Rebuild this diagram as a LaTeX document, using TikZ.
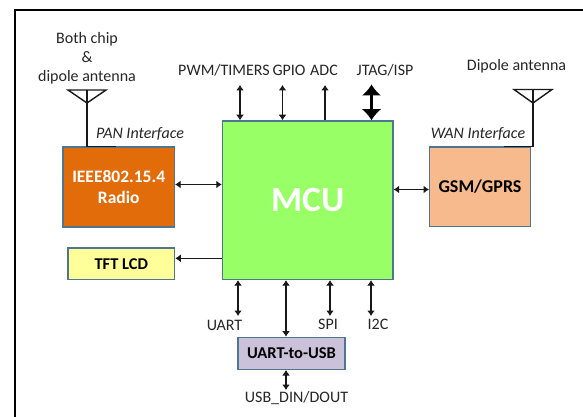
\documentclass[tikz,border=0pt]{standalone}
\usepackage{fontspec}
\setmainfont{Carlito}
\usetikzlibrary{arrows.meta,calc}
\definecolor{edgeblue}{HTML}{4F7590}
\definecolor{txt}{HTML}{262626}
\tikzset{
  x=1pt,y=-1pt,
  block/.style={draw=edgeblue,line width=1.4pt,inner sep=0pt,text=black,font=\fontsize{16.5}{20}\selectfont\bfseries,align=center},
  lbl/.style={inner sep=0pt,text=txt,font=\fontsize{16}{19}\selectfont,align=center},
  ital/.style={inner sep=0pt,text=txt,font=\fontsize{16}{19}\selectfont\itshape},
  link/.style={draw=black!90,line width=1.5pt,{Latex[length=5.5pt,width=8pt]}-{Latex[length=5.5pt,width=8pt]}},
  oneway/.style={draw=black!90,line width=1.5pt,-{Latex[length=5.5pt,width=8pt]}},
  fatlink/.style={draw=black,line width=2.6pt,{Latex[length=11pt,width=20pt]}-{Latex[length=11pt,width=20pt]}},
  wire/.style={draw=black!90,line width=1.4pt,line join=miter},
}
\begin{document}
\begin{tikzpicture}
\useasboundingbox (0,0) rectangle (583,417);
\fill[white] (0,0) rectangle (583,417);
\draw[line width=1.3pt,black] (15,417) -- (15,10) -- (583,10);
% blocks
\node[block,fill={rgb,255:red,153;green,255;blue,102},minimum width=170.5pt,minimum height=158.5pt,text=white,font=\fontsize{35.5}{38}\selectfont\bfseries] (mcu) at (307.7,200.2) {MCU};
\node[block,fill={rgb,255:red,227;green,108;blue,10},minimum width=111.5pt,minimum height=80pt,text=white,font=\fontsize{17.5}{21}\selectfont\bfseries] (radio) at (118.7,187) {IEEE802.15.4\\[0pt]Radio};
\node[block,fill={rgb,255:red,246;green,186;blue,140},minimum width=100.5pt,minimum height=79.5pt,font=\fontsize{18}{20}\selectfont\bfseries] (gsm) at (480,186.8) {GSM/GPRS};
\node[block,fill={rgb,255:red,255;green,255;blue,153},minimum width=106.5pt,minimum height=31.5pt] (tft) at (121.3,263.8) {TFT LCD};
\node[block,fill={rgb,255:red,204;green,193;blue,218},minimum width=107pt,minimum height=32pt] (usb) at (291.5,353.3) {UART-to-USB};
% labels
\node[lbl] (both) at (87,58) {Both chip\\\&\\dipole antenna};
\node[lbl] (pwm) at (224,70) {PWM/TIMERS};
\node[lbl] (gpio) at (289,70) {GPIO};
\node[lbl] (adc) at (324,70) {ADC};
\node[lbl] (jtag) at (385,70) {JTAG/ISP};
\node[lbl] (dipole) at (516.5,66) {Dipole antenna};
\node[ital] (pan) at (140,134) {PAN Interface};
\node[ital] (wan) at (478,134) {WAN Interface};
\node[lbl] (uart) at (224.5,325) {UART};
\node[lbl] (spi) at (328,324) {SPI};
\node[lbl] (iic) at (378,324) {I2C};
\node[lbl] (din) at (296.5,398) {USB\_DIN/DOUT};
% free ends
\coordinate (pwmtop) at (240,85);
\coordinate (gpiotop) at (282.5,85);
\coordinate (adctop) at (325,85);
\coordinate (jtagtop) at (371.5,84.5);
\coordinate (uartend) at (238,316);
\coordinate (spiend) at (330,316);
\coordinate (iicend) at (371,316);
\coordinate (usbin) at (286,337);
\coordinate (dinend) at (286,390);
\coordinate (radioy) at (0,184.5);
\coordinate (gsmy) at (0,189.5);
\coordinate (tfty) at (0,258.3);
\coordinate (lt) at (87,103);
\coordinate (rt) at (533,103);
\coordinate (la) at (68,90);
\coordinate (lb) at (106,90);
\coordinate (lc) at (87,90);
\coordinate (ra) at (514,89.5);
\coordinate (rb) at (552,89.5);
\coordinate (rc) at (533,89.5);
\coordinate (lfoot) at (116,0);
\coordinate (rfoot) at (504,0);
% top arrows
\draw[link] (pwmtop) -- (pwmtop |- mcu.north);
\draw[link] (gpiotop) -- (gpiotop |- mcu.north);
\draw[oneway] (adctop |- mcu.north) -- (adctop);
\draw[fatlink] (jtagtop) -- (jtagtop |- mcu.north);
% side arrows
\draw[link] (radio.east |- radioy) -- (mcu.west |- radioy);
\draw[link] (mcu.east |- gsmy) -- (gsm.west |- gsmy);
\draw[oneway] (mcu.west |- tfty) -- (tft.east |- tfty);
% bottom arrows
\draw[link] (uartend |- mcu.south) -- (uartend);
\draw[link] (spiend |- mcu.south) -- (spiend);
\draw[link] (iicend |- mcu.south) -- (iicend);
\draw[link] (usbin |- mcu.south) -- (usbin |- usb.north);
\draw[link] (usbin |- usb.south) -- (dinend);
% antennas
\draw[wire] (la) -- (lb) -- (lt) -- cycle;
\draw[wire] (lc) -- (lc |- radio.north) -- (lfoot |- radio.north);
\draw[wire] (ra) -- (rb) -- (rt) -- cycle;
\draw[wire] (rc) -- (rc |- gsm.north) -- (rfoot |- gsm.north);
\end{tikzpicture}
\end{document}
